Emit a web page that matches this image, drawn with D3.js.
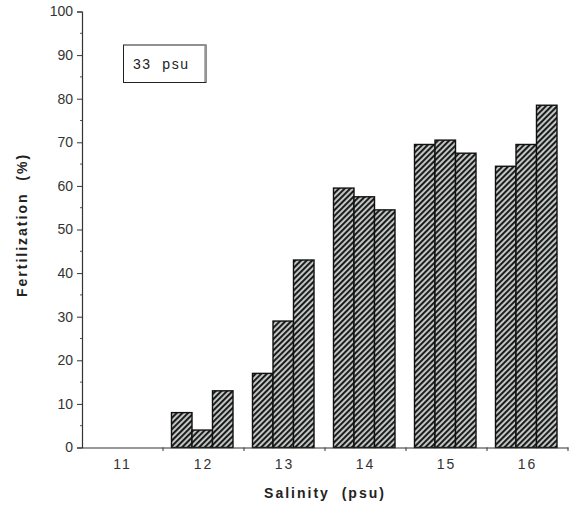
<!DOCTYPE html>
<html><head><meta charset="utf-8">
<script src="https://cdn.jsdelivr.net/npm/d3@7"></script>
<style>body{margin:0;background:#fff}svg{display:block}text{font-family:"Liberation Sans",Arial,sans-serif;fill:#222}</style>
</head><body>
<script>
const categories = ["11","12","13","14","15","16"];
const seriesA = [0, 8, 17, 59.5, 69.5, 64.5];
const seriesB = [0, 4, 29, 57.5, 70.5, 69.5];
const seriesC = [0, 13, 43, 54.5, 67.5, 78.5];
const yTicks = [0,10,20,30,40,50,60,70,80,90,100];
const series = [seriesA, seriesB, seriesC];

const W = 573, H = 510;
const svg = d3.select("body").append("svg").attr("width", W).attr("height", H);

const defs = svg.append("defs");
const pat = defs.append("pattern").attr("id","hatch").attr("patternUnits","userSpaceOnUse")
  .attr("width",4).attr("height",4).attr("patternTransform","rotate(45)");
pat.append("rect").attr("width",4).attr("height",4).attr("fill","#c9cfcc");
pat.append("rect").attr("width",2.1).attr("height",4).attr("fill","#1c1c1c");

const x = d3.scaleBand().domain(categories).range([82, 568]).paddingInner(0).paddingOuter(0);
const xs = d3.scaleBand().domain(d3.range(series.length)).range([8.5, 70]).padding(0);
const y = d3.scaleLinear().domain([0, 100]).range([447.5, 11.5]);

// bars
categories.forEach((c, i) => {
  series.forEach((s, k) => {
    const v = s[i];
    if (v <= 0) return;
    svg.append("rect")
      .attr("x", x(c) + xs(k)).attr("y", y(v))
      .attr("width", xs.bandwidth()).attr("height", y(0) - y(v))
      .attr("fill", "url(#hatch)").attr("stroke", "#111").attr("stroke-width", 1.4);
  });
});

const fam = '"Liberation Sans",Arial,sans-serif';
// y axis
const yAxis = d3.axisLeft(y).tickValues(yTicks).tickSize(5).tickPadding(4);
const gy = svg.append("g").attr("transform", "translate(82,0)").call(yAxis);
gy.select(".domain").attr("stroke", "#333").attr("stroke-width", 1.2);
gy.selectAll(".tick line").attr("stroke", "#333");
gy.selectAll(".tick text").attr("font-size", 14).style("fill", "#333").style("font-family", fam);
// minor ticks
svg.append("g").selectAll("line").data(d3.range(5, 100, 10)).join("line")
  .attr("x1", 80).attr("x2", 82).attr("y1", d => y(d)).attr("y2", d => y(d))
  .attr("stroke", "#555");

// x axis
const xAxis = d3.axisBottom(x).tickSize(0).tickPadding(12);
const gx = svg.append("g").attr("transform", "translate(0,447.5)").call(xAxis);
gx.select(".domain").attr("stroke", "#333").attr("stroke-width", 1.2);
gx.selectAll(".tick text").attr("font-size", 14).style("fill", "#333")
  .style("letter-spacing", "2px").style("font-family", fam);
const bounds = categories.map(c => x(c)).concat([x(categories[categories.length-1]) + x.bandwidth()]);
svg.append("g").selectAll("line").data(bounds.slice(1)).join("line")
  .attr("x1", d => d).attr("x2", d => d).attr("y1", 447.5).attr("y2", 451)
  .attr("stroke", "#333");

// axis titles
svg.append("text").attr("x", 325).attr("y", 498).attr("text-anchor", "middle")
  .attr("font-size", 14).attr("font-weight", "bold").style("letter-spacing", "2px")
  .attr("xml:space","preserve").text("Salinity  (psu)");
svg.append("text").attr("transform", "translate(27,225) rotate(-90)").attr("text-anchor", "middle")
  .attr("font-size", 14).attr("font-weight", "bold").style("letter-spacing", "2px")
  .attr("xml:space","preserve").text("Fertilization  (%)");

// legend box
svg.append("rect").attr("x", 123.5).attr("y", 45).attr("width", 82.5).attr("height", 37.5)
  .attr("fill", "none").attr("stroke", "#222").attr("stroke-width", 1);
svg.append("line").attr("x1", 205).attr("x2", 205).attr("y1", 45).attr("y2", 82)
  .attr("stroke", "#999").attr("stroke-width", 1.5);
svg.append("text").attr("x", 133).attr("y", 69).attr("font-size", 14)
  .style("letter-spacing", "1.5px").attr("xml:space","preserve").text("33  psu");
</script>
</body></html>
